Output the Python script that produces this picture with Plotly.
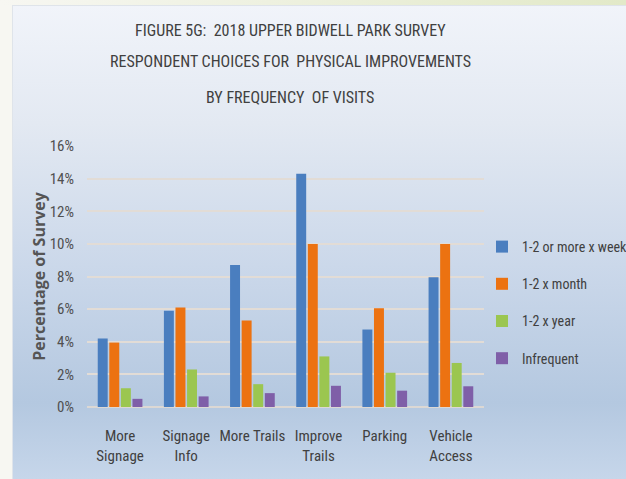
import base64
import plotly.graph_objects as go

categories = ["More<br>Signage", "Signage<br>Info", "More Trails", "Improve<br>Trails", "Parking", "Vehicle<br>Access"]
series_names = ["1-2 or more x week", "1-2 x month", "1-2 x year", "Infrequent"]
weekly = [4.2, 5.9, 8.7, 14.3, 4.75, 7.95]
monthly = [3.95, 6.1, 5.3, 10.0, 6.05, 10.0]
yearly = [1.15, 2.3, 1.4, 3.1, 2.1, 2.7]
infrequent = [0.5, 0.65, 0.85, 1.3, 1.0, 1.27]
series_values = [weekly, monthly, yearly, infrequent]
colors = ["#4a7ebf", "#ec7211", "#9bc650", "#7f5fa8"]
ytick_vals = [0, 2, 4, 6, 8, 10, 12, 14, 16]
ytick_text = ["0%", "2%", "4%", "6%", "8%", "10%", "12%", "14%", "16%"]
title_lines = ["FIGURE 5G:  2018 UPPER BIDWELL PARK SURVEY",
               "RESPONDENT CHOICES FOR  PHYSICAL IMPROVEMENTS",
               "BY FREQUENCY  OF VISITS"]

W, H = 626, 479
L, R, T, B = 87, 142, 146, 72
NARROW = "Liberation Sans Narrow, Arial Narrow, Roboto Condensed, Liberation Sans, sans-serif"
TXT = "#404040"

# background (gradient panel) as an SVG image
svg = f'''<svg xmlns="http://www.w3.org/2000/svg" width="{W}" height="{H}" viewBox="0 0 {W} {H}">
<defs>
<linearGradient id="g" x1="0" y1="0" x2="0" y2="1">
<stop offset="0" stop-color="#f1f4fa"/>
<stop offset="0.25" stop-color="#e3e9f2"/>
<stop offset="0.55" stop-color="#cbd8ea"/>
<stop offset="0.84" stop-color="#b4c8e0"/>
<stop offset="1" stop-color="#c6d6ea"/>
</linearGradient>
<linearGradient id="t" x1="0" y1="0" x2="1" y2="0">
<stop offset="0" stop-color="#f7f7f2"/>
<stop offset="1" stop-color="#e2e9c8"/>
</linearGradient>
</defs>
<rect x="0" y="0" width="{W}" height="{H}" fill="#f7f7f2"/>
<rect x="0" y="0" width="{W}" height="5" fill="url(#t)"/>
<rect x="12" y="5" width="{W-12}" height="{H-5}" fill="url(#g)"/>
<rect x="12.5" y="5.5" width="{W-12}" height="{H-5}" fill="none" stroke="#dfe4ea" stroke-width="1"/>
</svg>'''
svg_uri = "data:image/svg+xml;base64," + base64.b64encode(svg.encode()).decode()

fig = go.Figure()
for name, vals, col in zip(series_names, series_values, colors):
    fig.add_trace(go.Bar(x=categories, y=vals, name=name, marker_color=col,
                         marker_line_width=0, legendgroup=name))

pw, ph = W - L - R, H - T - B
def px2paper_x(p):
    return (p - L) / pw
def px2paper_y(p):
    return (H - B - p) / ph

annotations = []
for line, ypx in zip(title_lines, [30, 62, 97]):
    annotations.append(dict(text=line, x=px2paper_x(290), xref="paper", y=px2paper_y(ypx), yref="paper",
                            showarrow=False, xanchor="center", yanchor="middle",
                            font=dict(family=NARROW, size=16, color=TXT)))

fig.update_layout(
    width=W, height=H,
    margin=dict(l=L, r=R, t=T, b=B, autoexpand=False),
    paper_bgcolor="rgba(0,0,0,0)",
    plot_bgcolor="rgba(0,0,0,0)",
    barmode="group", bargap=0.3, bargroupgap=0.14,
    images=[dict(source=svg_uri, xref="paper", yref="paper",
                 x=px2paper_x(0), y=px2paper_y(0),
                 sizex=W / pw, sizey=H / ph, xanchor="left", yanchor="top",
                 sizing="stretch", layer="below")],
    annotations=annotations,
    showlegend=True,
    legend=dict(x=px2paper_x(482), y=px2paper_y(231), xanchor="left", yanchor="top",
                bgcolor="rgba(0,0,0,0)", tracegroupgap=16, itemwidth=30,
                font=dict(family=NARROW, size=14, color=TXT)),
    yaxis=dict(range=[0, 16], tickvals=ytick_vals, ticktext=ytick_text,
               showgrid=True, gridcolor="#e2dcd6", gridwidth=1.5,
               zeroline=True, zerolinecolor="#dcd8d4", zerolinewidth=2,
               showline=False, ticklabelstandoff=12,
               tickfont=dict(family=NARROW, size=15, color="#505050"),
               title=dict(text="Percentage of Survey", standoff=0,
                          font=dict(family="Open Sans, sans-serif", size=16, color="#555555", weight="bold"))),
    xaxis=dict(showgrid=False, showline=False, ticks="", ticklabelstandoff=18,
               tickfont=dict(family=NARROW, size=15, color=TXT)),
)

fig.write_html("out.html")
